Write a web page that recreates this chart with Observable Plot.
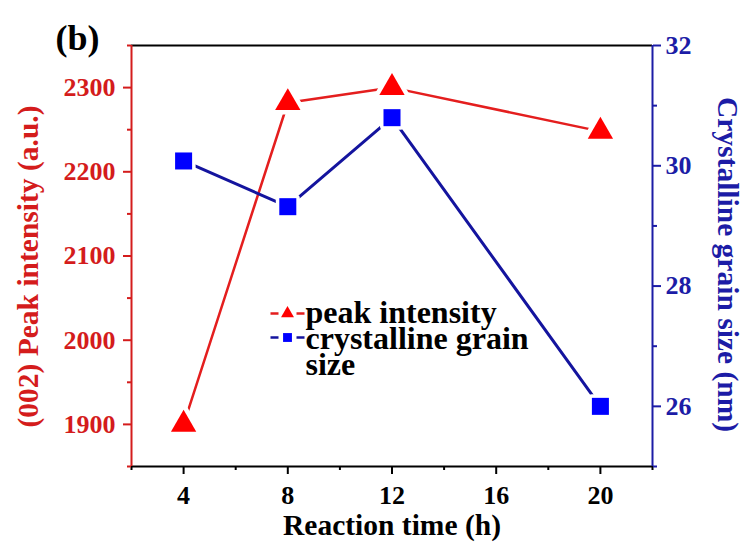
<!DOCTYPE html>
<html><head><meta charset="utf-8">
<script src="https://cdn.jsdelivr.net/npm/d3@7"></script>
<script src="https://cdn.jsdelivr.net/npm/@observablehq/plot@0.6"></script>
<style>html,body{margin:0;padding:0;background:#fff} svg{display:block}</style>
</head><body><div id="chart"></div>
<script>
// ---- data ----
const reactionTime = [4, 8, 12, 20];
const peakIntensity = [1900, 2282, 2300, 2248];
const grainSize = [30.08, 29.32, 30.8, 26.0];
const xTicks = [4, 8, 12, 16, 20];
const xMinorTicks = [2, 6, 10, 14, 18, 22];
const leftTicks = [1900, 2000, 2100, 2200, 2300];
const leftMinorTicks = [1850, 1950, 2050, 2150, 2250, 2350];
const rightTicks = [26, 28, 30, 32];
const rightMinorTicks = [25, 27, 29, 31];
const xDomain = [2, 22];
const leftDomain = [1850, 2350];
const rightDomain = [25, 32];
const seriesNames = ["peak intensity", "crystalline grain", "size"];
const labels = {b: "(b)", x: "Reaction time (h)", left: "(002) Peak intensity (a.u.)", right: "Crystalline grain size (nm)"};

// ---- colours ----
const RED_TXT = "#d41c1c", RED_LINE = "#e41e1e", RED_MK = "#ff0000";
const BLUE_TXT = "#1c1ca6", BLUE_LINE = "#14149e", BLUE_MK = "#0000ff";

// map right-axis values onto the left scale
const toLeft = d3.scaleLinear(rightDomain, leftDomain);
const intensity = reactionTime.map((t, i) => ({t, v: peakIntensity[i]}));
const grain = reactionTime.map((t, i) => ({t, v: toLeft(grainSize[i])}));

const dashSymbol = {draw(ctx) { ctx.moveTo(-17, 0); ctx.lineTo(-9, 0); ctx.moveTo(9, 0); ctx.lineTo(17, 0); }};
const FONT = "'Liberation Serif', 'Times New Roman', serif";
const fmt = d => String(d);

const chart = Plot.plot({
  width: 747, height: 542,
  marginLeft: 131, marginRight: 95, marginTop: 45, marginBottom: 76,
  x: {domain: xDomain},
  y: {domain: leftDomain},
  style: {fontFamily: FONT, fontWeight: "bold", background: "white", overflow: "visible"},
  marks: [
    // axes
    Plot.axisX({ticks: xTicks, tickFormat: fmt, tickSize: 8, tickPadding: 11, fontSize: 26, color: "black", strokeWidth: 2, label: null}),
    Plot.axisX({ticks: xMinorTicks, tickSize: 4, tickFormat: () => "", color: "black", strokeWidth: 2, label: null}),
    Plot.axisY({anchor: "left", ticks: leftTicks, tickFormat: fmt, tickSize: 8, tickPadding: 8, fontSize: 26, color: RED_TXT, strokeWidth: 2, label: null}),
    Plot.axisY({anchor: "left", ticks: leftMinorTicks, tickSize: 4, tickFormat: () => "", color: RED_TXT, strokeWidth: 2, label: null}),
    Plot.axisY({anchor: "right", ticks: rightTicks.map(toLeft), tickFormat: d => String(Math.round(toLeft.invert(d))), tickSize: 8, tickPadding: 5, fontSize: 26, color: BLUE_TXT, strokeWidth: 2, label: null}),
    Plot.axisY({anchor: "right", ticks: rightMinorTicks.map(toLeft), tickFormat: () => "", tickSize: 4, color: BLUE_TXT, strokeWidth: 2, label: null}),
    // frame
    Plot.ruleY(leftDomain, {stroke: "black", strokeWidth: 2}),
    Plot.ruleX([xDomain[0]], {stroke: RED_TXT, strokeWidth: 2}),
    Plot.ruleX([xDomain[1]], {stroke: BLUE_TXT, strokeWidth: 2}),
    // series
    Plot.line(intensity, {x: "t", y: "v", stroke: RED_LINE, strokeWidth: 2.5}),
    Plot.line(grain, {x: "t", y: "v", stroke: BLUE_LINE, strokeWidth: 3}),
    Plot.dot(intensity, {x: "t", y: "v", symbol: "triangle", r: 9.4, fill: RED_MK, stroke: "white", strokeWidth: 9, strokeLinejoin: "round", paintOrder: "stroke"}),
    Plot.dot(grain, {x: "t", y: "v", symbol: "square", r: 9.6, fill: BLUE_MK, stroke: "white", strokeWidth: 7, strokeLinejoin: "round", paintOrder: "stroke"}),
    // legend
    Plot.dot([0], {frameAnchor: "top-left", dx: 156, dy: 268, symbol: dashSymbol, r: 5, fill: "none", stroke: RED_LINE, strokeWidth: 2.5}),
    Plot.dot([0], {frameAnchor: "top-left", dx: 156, dy: 268, symbol: "triangle", r: 4.8, fill: RED_MK}),
    Plot.dot([0], {frameAnchor: "top-left", dx: 156, dy: 292, symbol: dashSymbol, r: 5, fill: "none", stroke: BLUE_LINE, strokeWidth: 2.5}),
    Plot.dot([0], {frameAnchor: "top-left", dx: 156, dy: 292, symbol: "square", r: 5, fill: BLUE_MK}),
    Plot.text([seriesNames[0]], {frameAnchor: "top-left", dx: 174, dy: 277, textAnchor: "start", lineAnchor: "bottom", fontSize: 32, fill: "black"}),
    Plot.text([seriesNames[1]], {frameAnchor: "top-left", dx: 174, dy: 303, textAnchor: "start", lineAnchor: "bottom", fontSize: 32, fill: "black"}),
    Plot.text([seriesNames[2]], {frameAnchor: "top-left", dx: 174, dy: 329, textAnchor: "start", lineAnchor: "bottom", fontSize: 32, fill: "black"}),
    // titles
    Plot.text([labels.b], {frameAnchor: "top-left", dx: -76, dy: 4, textAnchor: "start", lineAnchor: "bottom", fontSize: 36, fill: "black"}),
    Plot.text([labels.x], {frameAnchor: "bottom", dy: 68, textAnchor: "middle", lineAnchor: "bottom", fontSize: 29.5, fill: "black"}),
    Plot.text([labels.left], {frameAnchor: "left", dx: -103, dy: 10.5, rotate: -90, textAnchor: "middle", lineAnchor: "middle", fontSize: 29.5, fill: RED_TXT}),
    Plot.text([labels.right], {frameAnchor: "right", dx: 75, dy: 8.5, rotate: 90, textAnchor: "middle", lineAnchor: "middle", fontSize: 29.5, fill: BLUE_TXT})
  ]
});
document.getElementById("chart").append(chart);
</script>
</body></html>
